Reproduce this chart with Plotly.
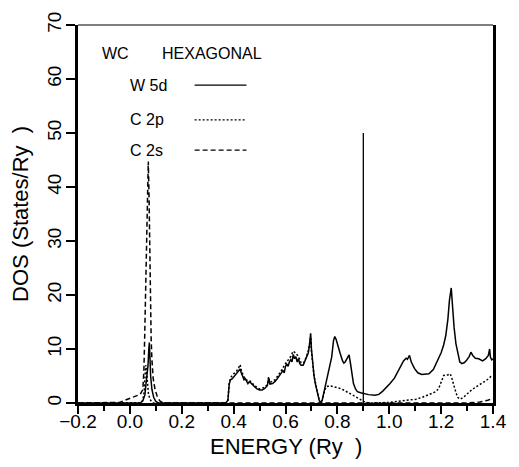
import plotly.graph_objects as go

# ---------------- data ----------------
w5d_e = [-0.2, 0.04, 0.05, 0.058, 0.062, 0.066, 0.07, 0.073, 0.075, 0.077, 0.08, 0.085, 0.092, 0.10, 0.11,
         0.37, 0.378, 0.383, 0.388, 0.395, 0.40, 0.405, 0.41, 0.415, 0.42, 0.425, 0.43, 0.435, 0.44, 0.445,
         0.45, 0.455, 0.46, 0.465, 0.47, 0.48, 0.49, 0.50, 0.51, 0.52, 0.53, 0.535, 0.54, 0.55, 0.56, 0.57,
         0.575, 0.58, 0.59, 0.595, 0.60, 0.605, 0.61, 0.615, 0.62, 0.625, 0.63, 0.635, 0.64, 0.645, 0.65,
         0.655, 0.66, 0.668, 0.675, 0.68, 0.688, 0.693, 0.697, 0.70, 0.705, 0.71, 0.715, 0.72, 0.725, 0.73,
         0.736, 0.742, 0.75, 0.76, 0.77, 0.778, 0.785, 0.79, 0.795, 0.80, 0.81, 0.82, 0.825, 0.83, 0.838,
         0.845, 0.85, 0.855, 0.862, 0.87, 0.877, 0.89, 0.90, 0.92, 0.945, 0.96, 0.975, 0.99, 1.003, 1.02,
         1.04, 1.055, 1.065, 1.07, 1.078, 1.085, 1.097, 1.11, 1.125, 1.14, 1.153, 1.17, 1.185, 1.2, 1.21,
         1.218, 1.226, 1.232, 1.239, 1.245, 1.25, 1.257, 1.265, 1.272, 1.28, 1.29, 1.298, 1.308, 1.315,
         1.322, 1.332, 1.345, 1.36, 1.372, 1.382, 1.387, 1.39, 1.395, 1.40]
w5d_v = [0, 0, 0.4, 1.5, 3.5, 5, 7, 10, 11.2, 9, 5, 2.5, 1, 0.3, 0,
         0, 0.5, 3.5, 4.3, 4.5, 4.8, 5.0, 5.4, 5.8, 6.0, 6.3, 5.5, 5.0, 4.3, 4.5,
         3.9, 3.6, 3.9, 3.8, 3.5, 3.0, 2.6, 2.4, 2.4, 2.7, 3.2, 4.6, 3.5, 3.6, 4.0, 4.6,
         4.9, 5.3, 6.0, 5.6, 6.8, 7.2, 6.8, 7.6, 8.0, 7.6, 9.0, 8.2, 8.6, 7.6, 8.2,
         7.3, 7.0, 7.0, 7.8, 8.2, 9.3, 11, 12.9, 10, 7, 5, 3.6, 2.4, 1.3, 0.5,
         0, 0.6, 2.4, 4.5, 6.6, 8.5, 11.5, 12.3, 11.8, 10.8, 9.3, 7.8, 7.4, 7.6, 8.3,
         8.9, 7.5, 5.5, 3.6, 2.6, 2.1, 1.9, 1.8, 1.55, 1.45, 1.6, 2.2, 2.9, 3.6, 4.6,
         6.5, 7.8, 8.3, 8.1, 8.8, 7.6, 6.4, 5.6, 5.3, 5.3, 5.4, 6.2, 7.6, 9.3, 10.8,
         12.5, 15.5, 19, 21.3, 17, 14, 11, 8.8, 7.6, 7.3, 7.5, 7.9, 8.6, 9.4,
         8.8, 8.3, 8.2, 7.8, 8.2, 8.8, 10, 8.5, 8.0, 8.2]

c2p_e = [-0.2, 0.04, 0.05, 0.055, 0.058, 0.061, 0.064, 0.068, 0.072, 0.08, 0.09,
         0.37, 0.378, 0.383, 0.39, 0.40, 0.41, 0.42, 0.425, 0.43, 0.44, 0.45, 0.46, 0.47, 0.48,
         0.50, 0.52, 0.53, 0.535, 0.54, 0.56, 0.58, 0.60, 0.62, 0.63, 0.64, 0.65, 0.66, 0.67,
         0.68, 0.69, 0.697, 0.70, 0.71, 0.72, 0.73, 0.736, 0.742, 0.75, 0.757, 0.77, 0.789,
         0.80, 0.81, 0.824, 0.84, 0.862, 0.88, 0.90, 0.92, 1.0, 1.04, 1.07, 1.103, 1.13,
         1.153, 1.175, 1.19, 1.2, 1.21, 1.225, 1.235, 1.24, 1.25, 1.258, 1.265, 1.273,
         1.285, 1.3, 1.317, 1.335, 1.355, 1.375, 1.392, 1.40]
c2p_v = [0, 0, 0.5, 2, 4.5, 7, 6, 3, 1.5, 0.5, 0,
         0, 0.5, 3.8, 4.8, 5.4, 5.8, 6.6, 7.1, 6.0, 4.8, 4.2, 4.2, 3.8, 3.2,
         2.6, 2.9, 3.4, 4.8, 3.8, 4.3, 5.7, 7.3, 8.6, 9.6, 9.2, 8.6, 7.5, 7.4,
         8.5, 10, 12.2, 9.6, 5, 2.4, 0.5, 0, 0.6, 2.2, 3.0, 3.2, 3.0,
         2.9, 2.7, 2.4, 2.0, 1.5, 0.9, 0.3, 0, 0.1, 0.3, 0.5, 0.7, 1.1,
         1.5, 2.0, 2.6, 3.8, 5.1, 5.2, 5.4, 4.8, 3.0, 1.8, 1.0, 0.7,
         1.0, 1.7, 2.4, 3.0, 3.6, 4.2, 4.9, 5.0]

c2s_e = [-0.2, -0.05, -0.04, -0.02, 0.0, 0.02, 0.04, 0.05, 0.054, 0.057, 0.060, 0.064, 0.068,
         0.071, 0.074, 0.077, 0.079, 0.082, 0.085, 0.090, 0.097, 0.105, 0.115, 0.125, 0.14,
         1.30, 1.35, 1.38, 1.40]
c2s_v = [0, 0, 0.1, 0.5, 0.9, 1.2, 1.6, 2.5, 6, 12, 20, 32, 42,
         44.7, 38, 26, 19, 12, 8, 4.5, 2.5, 1.3, 0.4, 0.1, 0,
         0, 0.2, 0.5, 0.9]

fermi_energy = 0.9
fermi_top = 50

x_ticks = [-0.2, 0.0, 0.2, 0.4, 0.6, 0.8, 1.0, 1.2, 1.4]
y_ticks = [0, 10, 20, 30, 40, 50, 60, 70]

series_names = ["W 5d", "C 2p", "C 2s"]
DOT = "2px,2px"
DASH = "5px,3px"
series_dash = ["solid", DOT, DASH]

FONT = "Liberation Sans, Arial, sans-serif"

fig = go.Figure()
for e, v, dash in [(w5d_e, w5d_v, "solid"), (c2p_e, c2p_v, DOT), (c2s_e, c2s_v, DASH)]:
    fig.add_trace(go.Scatter(x=e, y=v, mode="lines", showlegend=False,
                             line=dict(color="black", width=1.5, dash=dash)))

fig.add_trace(go.Scatter(x=[fermi_energy, fermi_energy], y=[0, fermi_top], mode="lines",
                         showlegend=False, line=dict(color="black", width=1.3)))

fig.update_layout(
    width=519, height=467,
    margin=dict(l=78, r=17, t=20, b=64),
    paper_bgcolor="white", plot_bgcolor="white",
    font=dict(family=FONT, color="black"),
    xaxis=dict(range=[-0.2, 1.4], tickvals=x_ticks, tickformat=".1f",
               ticks="outside", ticklen=8, tickwidth=1.5, tickcolor="black",
               minor=dict(dtick=0.1, ticks="outside", ticklen=5, tickwidth=1.5, tickcolor="black"),
               showline=True, linewidth=3, linecolor="black", mirror=False,
               showgrid=False, zeroline=False, tickfont=dict(size=19),
               ticklabelstandoff=-9),
    yaxis=dict(range=[0, 70], tickvals=y_ticks,
               ticks="outside", ticklen=9, tickwidth=1.5, tickcolor="black",
               showline=True, linewidth=3, linecolor="black", mirror=True,
               showgrid=False, zeroline=False, tickangle=-90, ticklabelstandoff=-3,
               tickfont=dict(size=19)),
)

# top frame line (thin)
fig.add_shape(type="line", xref="paper", yref="paper", x0=0, x1=1, y0=1, y1=1,
              line=dict(color="black", width=1.2))

# axis titles
fig.add_annotation(text="ENERGY (Ry  )", xref="paper", yref="paper", x=0.5, y=-0.115,
                   showarrow=False, xanchor="center", yanchor="middle", font=dict(size=22))
fig.add_annotation(text="DOS (States/Ry  )", xref="paper", yref="paper", x=-0.14, y=0.5,
                   showarrow=False, xanchor="center", yanchor="middle", textangle=-90,
                   font=dict(size=22))

# legend block
fig.add_annotation(text="WC", xref="paper", yref="paper", x=0.052, y=0.924, showarrow=False,
                   xanchor="left", yanchor="middle", font=dict(size=16))
fig.add_annotation(text="HEXAGONAL", xref="paper", yref="paper", x=0.198, y=0.924, showarrow=False,
                   xanchor="left", yanchor="middle", font=dict(size=16))
leg_y = [0.841, 0.749, 0.669]
for name, dash, yy in zip(series_names, series_dash, leg_y):
    fig.add_annotation(text=name, xref="paper", yref="paper", x=0.12, y=yy, showarrow=False,
                       xanchor="left", yanchor="middle", font=dict(size=16))
    fig.add_shape(type="line", xref="paper", yref="paper", x0=0.281, x1=0.406, y0=yy, y1=yy,
                  line=dict(color="black", width=1.3, dash=dash))

fig.write_html("out.html")
